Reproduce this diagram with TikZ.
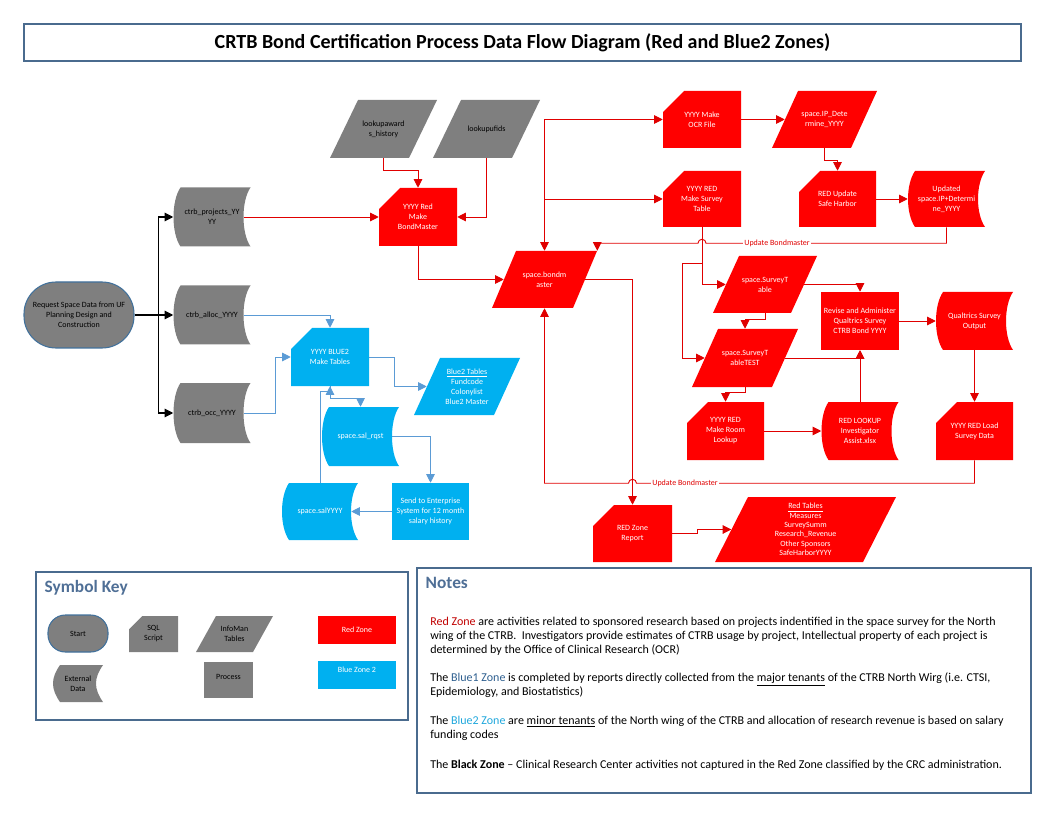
\documentclass[tikz,border=0pt]{standalone}
\usepackage{fontspec}
\setmainfont{Carlito}
\usetikzlibrary{arrows.meta,calc}
\definecolor{zred}{HTML}{FF0000}
\definecolor{zblue}{HTML}{00B0F0}
\definecolor{zgray}{HTML}{7F7F7F}
\definecolor{lred}{HTML}{E00000}
\definecolor{lblue}{HTML}{5B9BD5}
\definecolor{frame}{HTML}{4A6B8E}
\definecolor{startb}{HTML}{41719C}
\definecolor{ktitle}{HTML}{4F6F96}
\definecolor{nred}{HTML}{C00000}
\definecolor{nblue1}{HTML}{2E5F8F}
\definecolor{nblue2}{HTML}{1FA7DC}
\newcommand\nf{\fontsize{6}{7.5}\selectfont}
\tikzset{
  sz/.style 2 args={minimum width=#1*0.75pt, minimum height=#2*0.75pt},
  shp/.style={inner sep=0.5pt, align=center, font=\nf, text=white, sz={78}{58}},
  card/.style={shp, path picture={\fill[#1] ([xshift=15.75pt]path picture bounding box.north west) -- (path picture bounding box.north east) -- (path picture bounding box.south east) -- (path picture bounding box.south west) -- ([yshift=-15.75pt]path picture bounding box.north west) -- cycle;}},
  kcard/.style={shp, path picture={\fill[#1] ([xshift=10pt]path picture bounding box.north west) -- (path picture bounding box.north east) -- (path picture bounding box.south east) -- (path picture bounding box.south west) -- ([yshift=-10pt]path picture bounding box.north west) -- cycle;}},
  para/.style 2 args={shp, path picture={\fill[#1] ([xshift=#2]path picture bounding box.north west) -- (path picture bounding box.north east) -- ([xshift=-#2]path picture bounding box.south east) -- (path picture bounding box.south west) -- cycle;}},
  ext/.style={shp, path picture={\fill[#1] ([xshift=5.25pt]path picture bounding box.north west) -- (path picture bounding box.north east) .. controls ([xshift=-7pt,yshift=-10pt]path picture bounding box.north east) and ([xshift=-7pt,yshift=10pt]path picture bounding box.south east) .. (path picture bounding box.south east) -- ([xshift=5.25pt]path picture bounding box.south west) .. controls ([xshift=-1.75pt,yshift=10pt]path picture bounding box.south west) and ([xshift=-1.75pt,yshift=-10pt]path picture bounding box.north west) .. ([xshift=5.25pt]path picture bounding box.north west) -- cycle;}},
  proc/.style={shp, fill=#1},
  startnode/.style={shp, text=black, fill=zgray, draw=startb, line width=0.8pt, rounded corners=24pt, sz={110}{66}},
  tip/.style={-{Triangle[length=6.5pt,width=6.5pt]}},
  rl/.style={draw=lred, line width=0.7pt, tip},
  bl/.style={draw=lblue, line width=0.7pt, tip},
  kl/.style={draw=black, line width=0.8pt, tip},
  lbl/.style={fill=white, inner sep=1pt, font=\nf, text=lred},
  framebox/.style={draw=frame, line width=0.8pt},
  ttl/.style={anchor=west, font=\fontsize{13}{15}\selectfont\bfseries, text=ktitle},
  nt/.style={anchor=base west, inner sep=0pt, font=\fontsize{9}{11}\selectfont, text=black}
}
\begin{document}
\begin{tikzpicture}[x=0.75pt,y=-0.75pt]
\useasboundingbox (0,0) rectangle (1056,816);

% title
\node[framebox, sz={997}{37}, font=\fontsize{15}{17}\selectfont\bfseries] (title) at (522.5,42.5) {CRTB Bond Certification Process Data Flow Diagram (Red and Blue2 Zones)};

% start and external data
\node[startnode] (start) at (79,315) {Request Space Data from UF\\Planning Design and\\Construction};
\node[ext=zgray, text=black, sz={77}{59}] (ctrbp) at (212,217) {ctrb\_projects\_YY\\YY};
\node[ext=zgray, text=black, sz={77}{59}] (ctrba) at (212,315) {ctrb\_alloc\_YYYY};
\node[ext=zgray, text=black, sz={77}{60}] (ctrbo) at (212,413) {ctrb\_occ\_YYYY};
\node[para={zgray}{21pt}, text=black, sz={107}{58}] (lkaw) at (383.5,129) {lookupaward\\s\_history};
\node[para={zgray}{21pt}, text=black, sz={107}{58}] (lkuf) at (486.5,129) {lookupufids};

% red zone
\node[card=zred] (mkbm) at (418,217) {YYYY Red\\Make\\BondMaster};
\node[para={zred}{18pt}, sz={105}{57}] (bondm) at (544.5,279.5) {space.bondm\\aster};
\node[card=zred, sz={78}{57}] (ocr) at (702,119.5) {YYYY Make\\OCR File};
\node[card=zred, sz={78}{56}] (survt) at (702,199) {YYYY RED\\Make Survey\\Table};
\node[para={zred}{19.5pt}, sz={105}{57}] (ipdet) at (824.5,119.5) {space.IP\_Dete\\rmine\_YYYY};
\node[card=zred, sz={77}{56}] (safeh) at (837.5,199) {RED Update\\Safe Harbor};
\node[ext=zred, sz={77}{56}] (updip) at (946.5,199) {Updated\\space.IP+Determi\\ne\_YYYY};
\node[para={zred}{19.5pt}, sz={104}{57}] (svt) at (765,284.5) {space.SurveyT\\able};
\node[para={zred}{19.5pt}, sz={106}{58}] (svtt) at (745,358) {space.SurveyT\\ableTEST};
\node[proc=zred] (revise) at (860,321) {Revise and Administer\\Qualtrics Survey\\CTRB Bond YYYY};
\node[ext=zred, sz={77}{58}] (qout) at (974.5,321) {Qualtrics Survey\\Output};
\node[card=zred, sz={77}{58}] (load) at (974.5,431) {YYYY RED Load\\Survey Data};
\node[card=zred, sz={77}{58}] (room) at (725.5,431) {YYYY RED\\Make Room\\Lookup};
\node[ext=zred, sz={77}{58}] (rlook) at (860,431) {RED LOOKUP\\Investigator\\Assist.xlsx};
\node[card=zred, sz={79}{57}] (rzr) at (632.5,533.5) {RED Zone\\Report};
\node[para={zred}{24.75pt}, sz={181}{65}, font=\fontsize{6}{7}\selectfont] (rtab) at (805.5,529.5) {\underline{Red Tables}\\Measures\\SurveySumm\\Research\_Revenue\\Other Sponsors\\SafeHarborYYYY};

% blue zone
\node[card=zblue] (b2mk) at (330,357) {YYYY BLUE2\\Make Tables};
\node[para={zblue}{19.5pt}, sz={106}{57}] (b2tab) at (467,386.5) {\underline{Blue2 Tables}\\Fundcode\\Colonylist\\Blue2 Master};
\node[ext=zblue, sz={77}{59}] (salrq) at (360.5,436.5) {space.sal\_rqst};
\node[proc=zblue, sz={77}{57}] (send) at (430.5,511.5) {Send to Enterprise\\System for 12 month\\salary history};
\node[ext=zblue, sz={76}{57}] (salyy) at (320,511.5) {space.salYYYY};

% black connectors
\coordinate (fork) at ($(start.east)+(24,0)$);
\draw[kl,-] (start.east) -- (fork);
\draw[kl] (fork) |- (ctrbp.west);
\draw[kl] (fork) -- (ctrba.west);
\draw[kl] (fork) |- (ctrbo.west);

% red connectors
\draw[rl] ([xshift=-5.25pt]ctrbp.east) -- (mkbm.west);
\draw[rl] (lkaw.south) -- ++(0,12) -| (mkbm.north);
\draw[rl] (lkuf.south) |- (mkbm.east);
\draw[rl] (mkbm.south) |- ([xshift=9pt]bondm.west);
\draw[rl] (bondm.north |- ocr.west) -- (ocr.west);
\draw[rl] (bondm.north |- survt.west) -- (survt.west);
\draw[rl] (bondm.north |- ocr.west) -- (bondm.north);
\draw[rl] (ocr.east) -- ([xshift=9.75pt]ipdet.west);
\draw[rl] (ipdet.south) -- ++(0,12) -| (safeh.north);
\draw[rl] (safeh.east) -- (updip.west);
\draw[rl] (updip.south) -- ++(0,16) coordinate (u1) -- ([xshift=3pt]survt.south |- u1) arc[start angle=0, end angle=180, radius=3pt] -- (bondm.north east |- u1) -- (bondm.north east);
\node[lbl] (ub1) at (777,243) {Update Bondmaster};
\draw[rl] (survt.south) |- ([xshift=9.75pt]svt.west);
\draw[rl] (survt.south) ++(0,36) -- ++(-20,0) |- ([xshift=9.75pt]svtt.west);
\draw[rl] (svt.south) -- ++(0,6) -| (svtt.north);
\draw[rl] ([xshift=-9.75pt]svt.east) -| (revise.north);
\draw[rl] ([xshift=-9.75pt]svtt.east) -| (revise.south);
\draw[rl] (rlook.north) -- (revise.south);
\draw[rl] (revise.east) -- (qout.west);
\draw[rl] (qout.south) -- (load.north);
\draw[rl] (svtt.south) -- ++(0,5) -| (room.north);
\draw[rl] (room.east) -- (rlook.west);
\draw[rl] (load.south) -- ++(0,23) coordinate (u2) -- ([xshift=3pt]rzr.north |- u2) arc[start angle=0, end angle=180, radius=3pt] -- (bondm.south |- u2) -- (bondm.south);
\node[lbl] (ub2) at (685,483.5) {Update Bondmaster};
\draw[rl] ([xshift=-9pt]bondm.east) -| (rzr.north);
\draw[rl] (rzr.east) -- ++(25,0) |- ([xshift=12.4pt]rtab.west);

% blue connectors
\draw[bl] ([xshift=-5.25pt]ctrba.east) -| (b2mk.north);
\draw[bl] ([xshift=-5.25pt]ctrbo.east) -- ++(31.5,0) |- (b2mk.west);
\draw[bl] (b2mk.east) -- ++(25,0) |- ([xshift=9.75pt]b2tab.west);
\draw[bl] (b2mk.south) -- ++(0,12) -| (salrq.north);
\draw[bl] (salyy.north) -- ++(0,-91) -| (b2mk.south);
\draw[bl] ([xshift=-5.25pt]salrq.east) -| (send.north);
\draw[bl] (send.west) -- ([xshift=-5.25pt]salyy.east);

% symbol key
\node[framebox, sz={372}{148}] (keybox) at (222,646) {};
\node[ttl] (keyt) at (40,588) {Symbol Key};
\node[startnode, sz={60}{37}, rounded corners=13pt] (kstart) at (78,633.5) {Start};
\node[kcard=zgray, text=black, sz={49}{36}] (ksql) at (153.5,634) {SQL\\Script};
\node[para={zgray}{15pt}, text=black, sz={77}{36}] (kinfo) at (234.5,634) {InfoMan\\Tables};
\node[proc=zred, sz={78}{28}] (kred) at (357,630) {Red Zone};
\node[ext=zgray, text=black, sz={50}{37}] (kext) at (78,683.5) {External\\Data};
\node[proc=zgray, text=black, sz={49}{36}, text depth=4pt] (kproc) at (228.5,680) {Process};
\node[proc=zblue, sz={78}{28}, text depth=8pt] (kblue) at (357,675) {Blue Zone 2};

% notes
\node[framebox, sz={614}{225}] (notebox) at (724,680.5) {};
\node[ttl] (notet) at (421,583) {Notes};
\node[nt] (n1) at (430,625.5) {\textcolor{nred}{Red Zone} are activities related to sponsored research based on projects indentified in the space survey for the North};
\node[nt] (n2) at (430,639.5) {wing of the CTRB.~ Investigators provide estimates of CTRB usage by project, Intellectual property of each project is};
\node[nt] (n3) at (430,653.5) {determined by the Office of Clinical Research (OCR)};
\node[nt] (n4) at (430,681.5) {The \textcolor{nblue1}{Blue1 Zone} is completed by reports directly collected from the \underline{major tenants} of the CTRB North Wirg (i.e. CTSI,};
\node[nt] (n5) at (430,695.5) {Epidemiology, and Biostatistics)};
\node[nt] (n6) at (430,724.5) {The \textcolor{nblue2}{Blue2 Zone} are \underline{minor tenants} of the North wing of the CTRB and allocation of research revenue is based on salary};
\node[nt] (n7) at (430,738.5) {funding codes};
\node[nt] (n8) at (430,768.5) {The \textbf{Black Zone} -- Clinical Research Center activities not captured in the Red Zone classified by the CRC administration.};
\end{tikzpicture}
\end{document}
